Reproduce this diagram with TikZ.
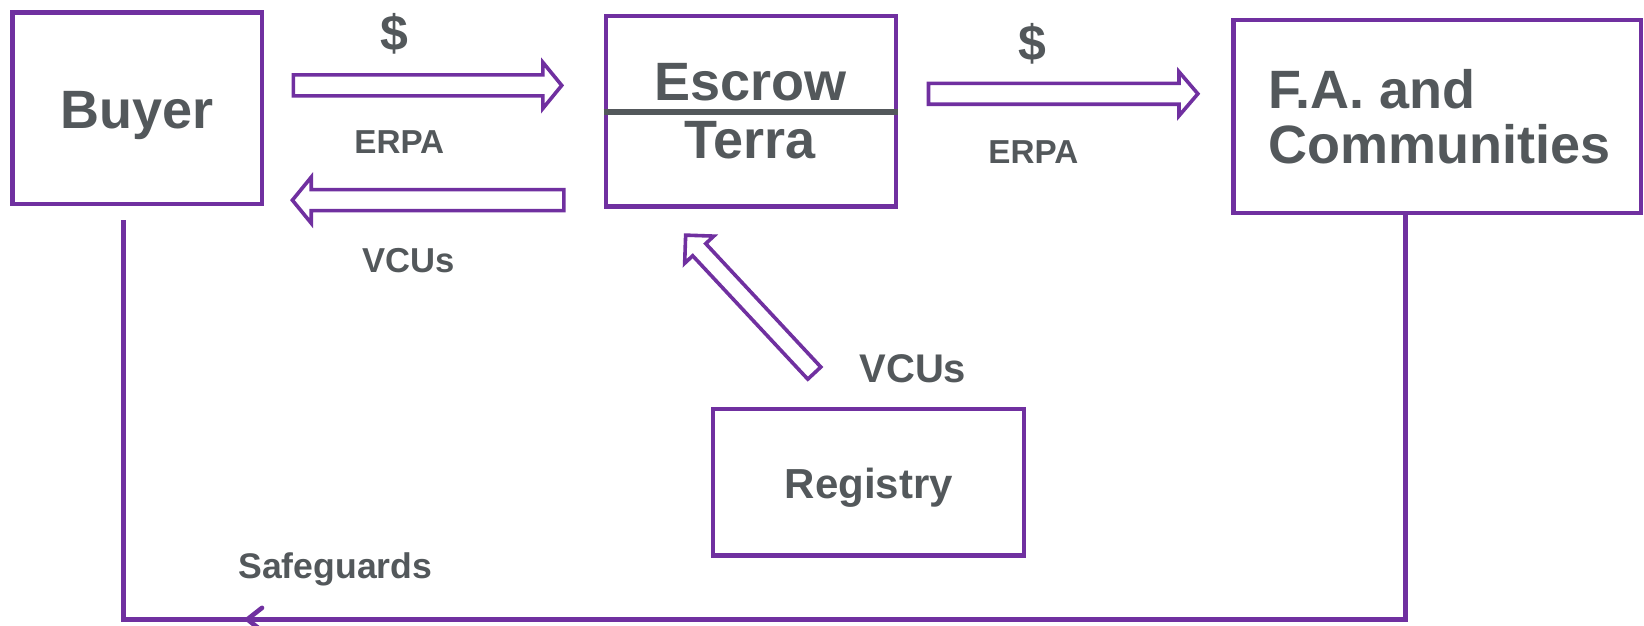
\documentclass[tikz,border=0pt]{standalone}
\usepackage{fontspec}
\setmainfont{Liberation Sans}
\usetikzlibrary{fit}
\definecolor{purp}{HTML}{7030A0}
\definecolor{txt}{HTML}{53585B}
\newcommand\blockarrow[6]{%
  \begin{scope}[shift={#1}, rotate=#2]
    \draw[barrow] (0,-#4) -- (#3-#6,-#4) -- (#3-#6,-#5) -- (#3,0) -- (#3-#6,#5) -- (#3-#6,#4) -- (0,#4) -- cycle;
  \end{scope}}
\begin{document}
\begin{tikzpicture}[x=0.524pt,y=-0.524pt,
  box/.style={draw=purp, line width=2.1pt, inner sep=0pt},
  lbl/.style={text=txt, inner sep=0pt, font=\bfseries\fontsize{#1}{#1}\selectfont},
  barrow/.style={draw=purp, fill=white, line width=1.8pt, line join=miter},
  flow/.style={draw=purp, line width=2.3pt}]
\useasboundingbox (0,0) rectangle (1568.7,597.3);
% boxes
\node[box, fit={(12,12) (250,195)}] (buyer) {};
\node[box, fit={(578,15) (855,197)}] (escrow) {};
\node[box, fit={(1177,19) (1566,203)}] (fa) {};
\node[box, fit={(680,390) (977,530)}] (registry) {};
\draw[txt, line width=2.8pt] (escrow.west |- 0,107) -- (escrow.east |- 0,107);
% box texts
\node[lbl=27] (tbuyer) at (131,110) {Buyer};
\node[lbl=27] (tescrow) at (716,78) {Escrow};
\node[lbl=27] (tterra) at (716,134) {Terra};
\node[lbl=27, anchor=west] (tfa) at (1210,85) {F.A. and};
\node[lbl=27, anchor=west] (tcomm) at (1210,138) {Communities};
\node[lbl=21] (treg) at (829,465) {Registry};
% block arrows
\blockarrow{(280,81.5)}{0}{256}{10}{22}{18}
\blockarrow{(538,191)}{180}{259}{10}{22}{18}
\blockarrow{(886,89.5)}{0}{257}{10}{21}{18}
\blockarrow{(777,356)}{133}{180}{8.5}{19}{19}
% labels
\node[lbl=25] (d1) at (376,32) {\$};
\node[lbl=25] (d2) at (985,42) {\$};
\node[lbl=16.6] (e1) at (381,136) {ERPA};
\node[lbl=16.6] (e2) at (986,145) {ERPA};
\node[lbl=17.3] (v1) at (390,249) {VCUs};
\node[lbl=20] (v2) at (871,352) {VCUs};
\node[lbl=17.8] (sg) at (320,543) {Safeguards};
% safeguards connector
\coordinate (fabot) at (1341,203);
\coordinate (buyerend) at (118,210);
\draw[flow] (fabot) -- (fabot |- 0,591) -- (buyerend |- 0,591) -- (buyerend);
\draw[purp, line width=2.3pt, line cap=round] (250,580) -- (236,591) -- (250,602);
\end{tikzpicture}
\end{document}
